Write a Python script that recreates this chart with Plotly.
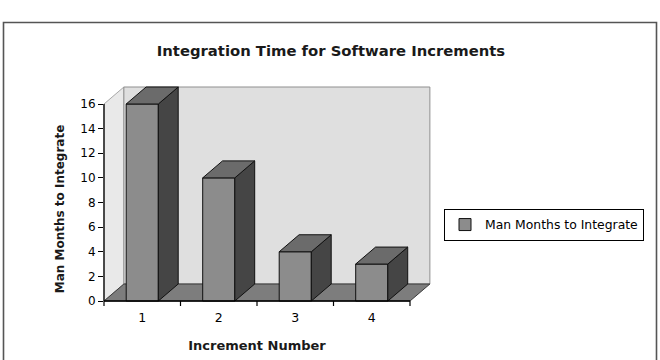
import plotly.graph_objects as go

# ---- data ----
categories = [1, 2, 3, 4]
category_labels = ["1", "2", "3", "4"]
man_months = [16, 10, 4, 3]
y_tick_values = [0, 2, 4, 6, 8, 10, 12, 14, 16]
series_name = "Man Months to Integrate"
title_text = "Integration Time for Software Increments"
x_title = "Increment Number"
y_title = "Man Months to Integrate"

# ---- figure geometry ----
W, H = 660, 360
ML, MR, MT, MB = 104, 250, 84, 26
PW, PH = W - ML - MR, H - MT - MB
Y_ZERO_PX = 301                      # pixel row of value 0 (front floor edge)
Y_UNIT = (Y_ZERO_PX - 104) / 16.0    # px per unit on the value axis

# ---- 3D look parameters (axis units) ----
DX = 0.26     # depth offset along x
DY = 1.38     # depth offset along y
BAR_W = 0.42
X_LO = categories[0] - 0.5
X_HI = categories[-1] + 0.5
Y_TOP = y_tick_values[-1]
X_RANGE = [X_LO, X_HI]
Y_RANGE = [-(H - MB - Y_ZERO_PX) / Y_UNIT, (Y_ZERO_PX - MT) / Y_UNIT]


def xd(x):
    """data x -> x-domain fraction (lets walls extend past the category range)"""
    return (x - X_RANGE[0]) / (X_RANGE[1] - X_RANGE[0])


def px_to_paper_x(px):
    return (px - ML) / PW


def px_to_paper_y(py):
    return (H - MB - py) / PH


FONT = "DejaVu Sans"


def poly(pts):
    return "M " + " L ".join(f"{x},{y}" for x, y in pts) + " Z"


shapes = []
# left side wall
shapes.append(dict(type="path", xref="x domain", yref="y", layer="below",
                   path=poly([(xd(X_LO), 0), (xd(X_LO + DX), DY),
                              (xd(X_LO + DX), Y_TOP + DY), (xd(X_LO), Y_TOP)]),
                   fillcolor="#e9e9e9", line=dict(color="#a8a8a8", width=1)))
# back wall
shapes.append(dict(type="rect", xref="x domain", yref="y", layer="below",
                   x0=xd(X_LO + DX), x1=xd(X_HI + DX), y0=DY, y1=Y_TOP + DY,
                   fillcolor="#dfdfdf", line=dict(color="#8f8f8f", width=1)))
# floor
shapes.append(dict(type="path", xref="x domain", yref="y", layer="below",
                   path=poly([(xd(X_LO), 0), (xd(X_HI), 0),
                              (xd(X_HI + DX), DY), (xd(X_LO + DX), DY)]),
                   fillcolor="#7d7d7d", line=dict(color="#3a3a3a", width=1)))

# bar tops and sides
for c, v in zip(categories, man_months):
    xl, xr = c - BAR_W / 2, c + BAR_W / 2
    shapes.append(dict(type="path", xref="x", yref="y", layer="above",
                       path=poly([(xr, 0), (xr + DX, DY), (xr + DX, v + DY), (xr, v)]),
                       fillcolor="#454545", line=dict(color="#111111", width=1)))
    shapes.append(dict(type="path", xref="x", yref="y", layer="above",
                       path=poly([(xl, v), (xr, v), (xr + DX, v + DY), (xl + DX, v + DY)]),
                       fillcolor="#6b6b6b", line=dict(color="#111111", width=1)))

# axis lines
shapes.append(dict(type="line", xref="x domain", yref="y", layer="above",
                   x0=0, x1=1, y0=0, y1=0, line=dict(color="#000000", width=1.3)))
shapes.append(dict(type="line", xref="x domain", yref="y", layer="above",
                   x0=0, x1=0, y0=0, y1=Y_TOP, line=dict(color="#000000", width=1.3)))
# x tick marks at category boundaries
y0_paper = (0 - Y_RANGE[0]) / (Y_RANGE[1] - Y_RANGE[0])
for k in range(len(categories) + 1):
    xb = xd(X_LO + k)
    shapes.append(dict(type="line", xref="x domain", yref="paper", layer="above",
                       x0=xb, x1=xb, ysizemode="pixel", yanchor=y0_paper,
                       y0=0, y1=-5, line=dict(color="#000000", width=1.2)))

# outer chart border
shapes.append(dict(type="rect", xref="paper", yref="paper", layer="above",
                   x0=px_to_paper_x(3.5), x1=px_to_paper_x(656.5),
                   y0=px_to_paper_y(370), y1=px_to_paper_y(22.5),
                   fillcolor="rgba(0,0,0,0)", line=dict(color="#555555", width=1.6)))

fig = go.Figure()
fig.add_trace(go.Bar(
    x=categories, y=man_months, width=BAR_W, name=series_name,
    marker=dict(color="#8c8c8c", line=dict(color="#111111", width=1)),
    showlegend=True,
))

fig.update_layout(
    width=W, height=H,
    margin=dict(l=ML, r=MR, t=MT, b=MB),
    paper_bgcolor="white", plot_bgcolor="rgba(0,0,0,0)",
    font=dict(family=FONT, color="#000000"),
    title=dict(text=title_text, x=331 / W, y=1 - 51 / H, xref="container", yref="container",
               xanchor="center", yanchor="middle",
               font=dict(family=FONT, size=14.8, color="#1a1a1a", weight="bold")),
    shapes=shapes,
    showlegend=True,
    legend=dict(x=px_to_paper_x(644), xanchor="right", y=px_to_paper_y(225), yanchor="middle",
                bgcolor="white", bordercolor="#000000", borderwidth=1,
                font=dict(family=FONT, size=12.4, color="#000000")),
    xaxis=dict(range=X_RANGE, tickmode="array", tickvals=categories, ticktext=category_labels,
               ticks="", showgrid=False, zeroline=False, showline=False,
               anchor="free", position=px_to_paper_y(304), automargin=False,
               ticklabelstandoff=4,
               tickfont=dict(family=FONT, size=12.5, color="#000000"),
               title=dict(text=x_title, standoff=17,
                          font=dict(family=FONT, size=13, weight="bold", color="#1a1a1a"))),
    yaxis=dict(range=Y_RANGE, tickmode="array", tickvals=y_tick_values,
               ticks="outside", ticklen=5, tickwidth=1, tickcolor="#000000",
               showgrid=False, zeroline=False, showline=False, automargin=False,
               tickfont=dict(family=FONT, size=12, color="#000000"),
               title=dict(text=y_title, standoff=13,
                          font=dict(family=FONT, size=12, weight="bold", color="#1a1a1a"))),
)

fig.write_html("out.html")
